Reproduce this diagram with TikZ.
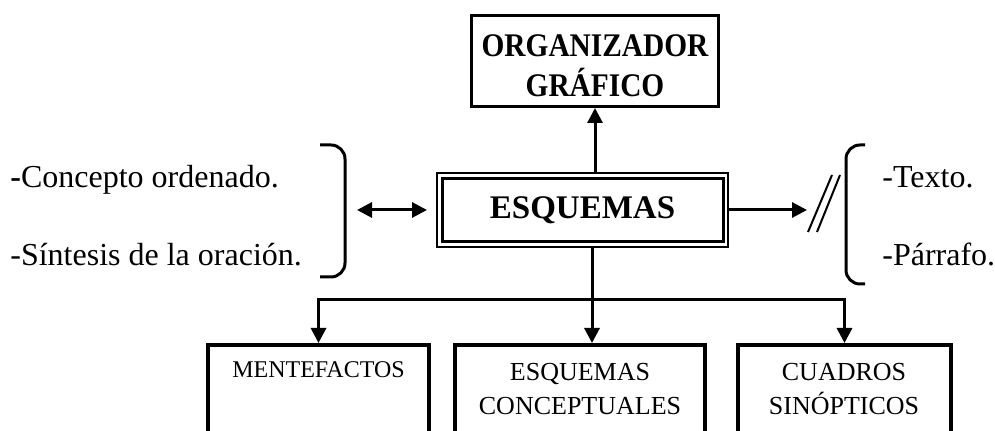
\documentclass[tikz,border=0pt]{standalone}
\usepackage{fontspec}
\setmainfont{Liberation Serif}
\newfontfamily\narrowserif[FakeStretch=0.89]{Liberation Serif}
\usetikzlibrary{arrows.meta,positioning}

\begin{document}
\begin{tikzpicture}[x=0.5pt, y=-0.5pt,
    conn/.style={line width=1.5pt, -{Triangle[length=7.5pt,width=7.5pt]}},
    lowbox/.style={draw, line width=2pt, minimum height=62.5pt},
    lowtxt/.style={align=center, inner sep=0pt, font=\fontsize{13}{17}\selectfont},
    sidetxt/.style={anchor=base west, inner sep=0pt, font=\fontsize{16}{19}\selectfont},
    brace/.style={line width=1.5pt, rounded corners=7pt}]
    \useasboundingbox (0,0) rectangle (995,431);

    \node[draw, line width=1.5pt, minimum width=123.5pt, minimum height=45.5pt] (org) at (595,61) {};
    \node[align=center, inner sep=0pt, font=\narrowserif\bfseries\fontsize{16.5}{20}\selectfont]
        (orgtxt) at (595,66) {ORGANIZADOR\\GRÁFICO};

    % double frame round the centre
    \node[draw, line width=1pt, outer sep=0pt, minimum width=145.5pt, minimum height=37pt,
        font=\bfseries\fontsize{16.5}{20}\selectfont] (esq) at (582.5,210) {ESQUEMAS};
    \draw[line width=1.5pt] ([shift={(5.5,-5)}]esq.south west) rectangle ([shift={(-4.5,5.5)}]esq.north east);

    \node[lowbox, minimum width=110.5pt] (ment) at (318.5,407.5) {};
    \node[lowbox, minimum width=125pt] (esqc) at (580,407.5) {};
    \node[lowbox, minimum width=106.5pt] (cuad) at (844.5,407.5) {};

    \node[lowtxt, font=\fontsize{12}{15}\selectfont] (menttxt) at (318.5,370) {MENTEFACTOS};
    \node[lowtxt] (esqctxt) at (580,389) {ESQUEMAS\\CONCEPTUALES};
    \node[lowtxt] (cuadtxt) at (844,389) {CUADROS\\SINÓPTICOS};

    \node[sidetxt] (concepto) at (10,188) {\textbf{-}Concepto ordenado.};
    \node[sidetxt] (sintesis) at (10,266) {-Síntesis de la oración.};
    \node[sidetxt] (texto) at (882,188) {-Texto.};
    \node[sidetxt] (parrafo) at (882,266) {-Párrafo.};

    % brackets
    \draw[brace] (320,145) -- (345,145) -- (345,277) -- (320,277);
    \draw[brace] (865,145) -- (846,145) -- (846,284) -- (865,284);
    \coordinate (lbr) at (345,210);
    \coordinate (cut) at (807,210);
    \coordinate (hub) at (592,300);

    \draw[line width=1.5pt, {Triangle[length=7.5pt,width=7.5pt]}-{Triangle[length=7.5pt,width=7.5pt]},
        shorten <=6pt, shorten >=5pt] (lbr) -- (esq.west);
    \draw[conn] (esq.east) -- (cut);
    \draw[line width=1pt] (808,232) -- (832,175) (817,232) -- (840,175);

    \draw[conn] (esq.north -| org.south) -- (org.south);
    \draw[line width=1.5pt] (esq.south -| hub) -- (hub);
    \draw[conn] (hub) -- (hub |- esqc.north);
    \draw[conn] (hub) -| (ment.north);
    \draw[conn] (hub) -| (cuad.north);
\end{tikzpicture}
\end{document}
